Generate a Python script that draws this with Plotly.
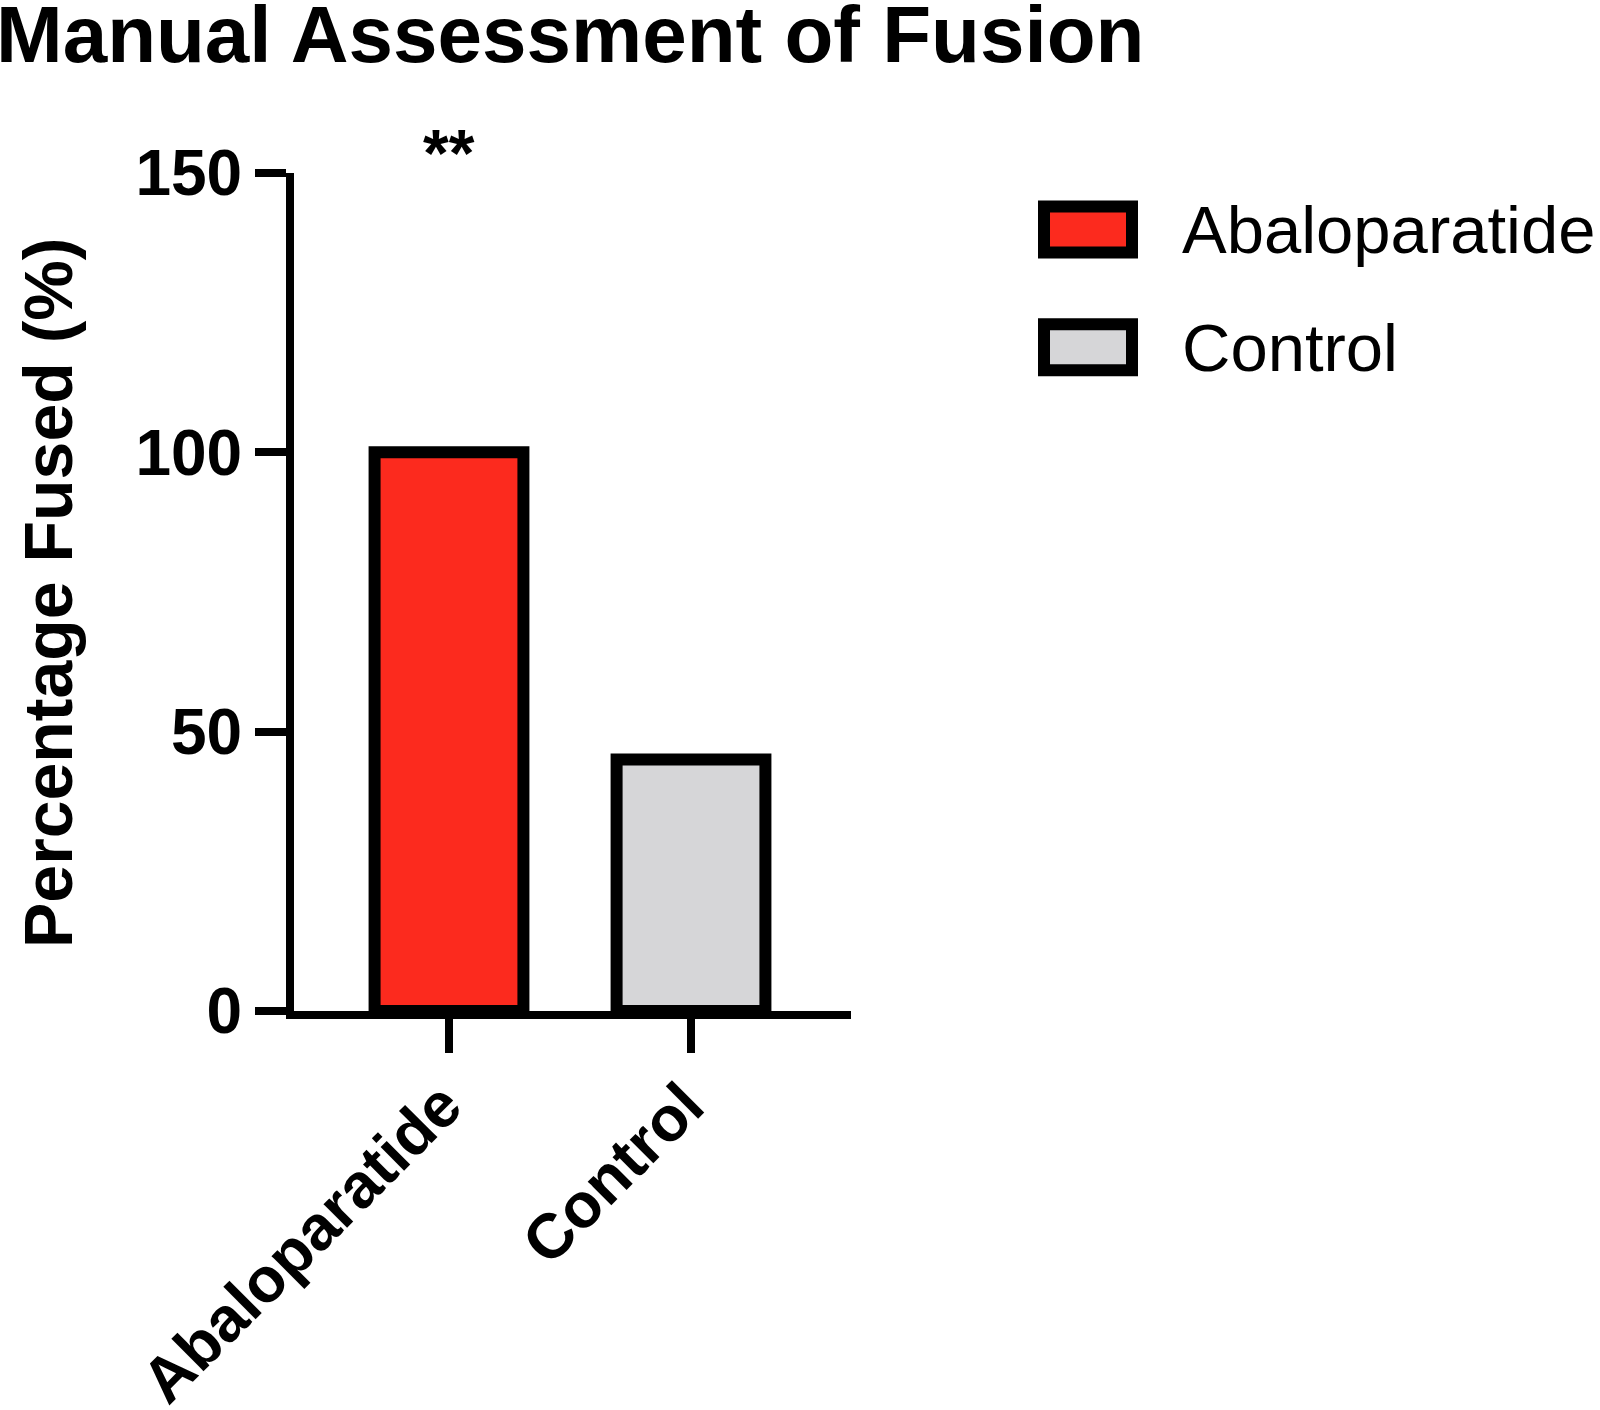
import plotly.graph_objects as go

# ---- data ----
categories = ["Abaloparatide", "Control"]
values = [100, 45]
bar_colors = ["rgb(252,42,30)", "rgb(214,214,216)"]
y_ticks = [0, 50, 100, 150]
title_text = "Manual Assessment of Fusion"
y_title = "Percentage Fused (%)"
significance = "**"

W, H = 1600, 1410
L, R, T, B = 294, 851, 172.5, 1011.5  # plot area in pixels


def px(x):
    return (x - L) / (R - L)


def py(y):
    return (B - y) / (B - T)


FONT = "Liberation Sans, Arial, Helvetica, sans-serif"

fig = go.Figure()
fig.add_trace(go.Bar(
    x=categories, y=values,
    marker=dict(color=bar_colors, line=dict(color="black", width=12)),
    width=0.615, showlegend=False,
))

shapes = []
annotations = []

# legend (custom, large swatches)
leg_y = [229, 347]
for i, name in enumerate(categories):
    cy = leg_y[i]
    shapes.append(dict(type="rect", xref="paper", yref="paper",
                       x0=px(1044), x1=px(1132), y0=py(cy - 23), y1=py(cy + 23),
                       fillcolor=bar_colors[i], line=dict(color="black", width=12)))
    annotations.append(dict(text=name, xref="paper", yref="paper", x=px(1180), y=py(cy),
                            xanchor="left", yanchor="middle", showarrow=False,
                            font=dict(family=FONT, size=67, color="black")))

# significance marker
annotations.append(dict(text="<b>" + significance + "</b>", xref="x", yref="paper",
                        x=categories[0], y=py(152), xanchor="center", yanchor="middle",
                        showarrow=False, font=dict(family=FONT, size=66, color="black")))

# y-axis title
annotations.append(dict(text="<b>" + y_title + "</b>", xref="paper", yref="paper",
                        x=px(48), y=py(593), xanchor="center", yanchor="middle",
                        textangle=-90, showarrow=False,
                        font=dict(family=FONT, size=68, color="black")))

# title
annotations.append(dict(text="<b>" + title_text + "</b>", xref="paper", yref="paper",
                        x=px(-6), y=py(34), xanchor="left", yanchor="middle",
                        showarrow=False, font=dict(family=FONT, size=80, color="black")))

fig.update_layout(
    width=W, height=H,
    margin=dict(l=L, r=W - R, t=T, b=H - B, pad=0, autoexpand=False),
    plot_bgcolor="white", paper_bgcolor="white",
    shapes=shapes, annotations=annotations,
    font=dict(family=FONT, color="black"),
    xaxis=dict(range=[(L - 449) / 242, (R - 449) / 242], automargin=False,
               showline=True, linecolor="black", linewidth=8,
               ticks="outside", ticklen=34, tickwidth=8, tickcolor="black",
               tickangle=-45, tickfont=dict(family=FONT, size=63, color="black"),
               ticklabelstandoff=-10, ticklabelshift=-6,
               showgrid=False, zeroline=False,
               tickvals=categories, ticktext=["<b>" + c + "</b>" for c in categories]),
    yaxis=dict(range=[0, 150], automargin=False,
               showline=True, linecolor="black", linewidth=8,
               ticks="outside", ticklen=31, tickwidth=8, tickcolor="black",
               tickvals=y_ticks, ticktext=["<b>%d</b>" % v for v in y_ticks],
               tickfont=dict(family=FONT, size=64, color="black"),
               showgrid=False, zeroline=False),
)

fig.write_html("out.html", config={"displayModeBar": False},
               post_script="document.body.style.margin='0px';")
